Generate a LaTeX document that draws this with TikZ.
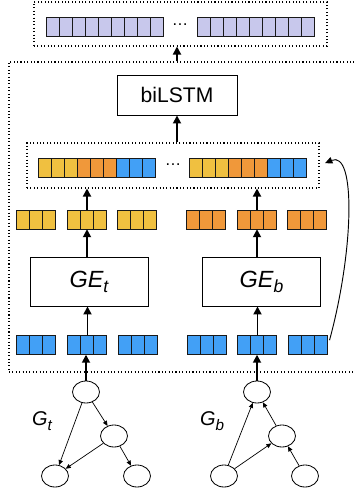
\documentclass[tikz,border=0pt]{standalone}
\usepackage{fontspec}
\setmainfont{Liberation Sans}
\usetikzlibrary{arrows.meta,shapes.geometric,fit,positioning}

\definecolor{vlilac}{RGB}{200,200,236}
\definecolor{vyellow}{RGB}{240,192,64}
\definecolor{vorange}{RGB}{240,152,58}
\definecolor{vblue}{RGB}{66,160,246}

\tikzset{
  cell/.style={draw=black!90, line width=1.2pt},
  vecgrp/.style={inner sep=0pt, minimum height=5.7mm},
  dotbox/.style={draw, dotted, line width=0.9pt, inner sep=0pt},
  netbox/.style={draw, line width=0.8pt, minimum width=36mm, minimum height=12mm, inner sep=0pt},
  gnode/.style={draw, ellipse, line width=0.7pt, minimum width=8.1mm, minimum height=6.6mm, inner sep=0pt},
  arr/.style={line width=1.5pt, -{Triangle[length=2.4mm,width=2.4mm]}},
  garr/.style={line width=0.6pt, -{Triangle[length=1.5mm,width=1.3mm]}},
  backarr/.style={line width=0.8pt, -{Triangle[length=2.2mm,width=2mm]}}
}
\newcommand{\vecrow}[4]{% name, centre, cells, colours
  \node[vecgrp, minimum width=#3*3.9mm] (#1) at (#2) {};
  \foreach \c [count=\i from 0] in {#4} { \draw[cell, fill=\c] ([xshift=\i*3.9mm]#1.south west) rectangle ++(3.9mm,5.7mm); }
}
\newcommand{\lowsub}[2]{\raisebox{-0.22em}{\fontsize{#2}{#2}\selectfont #1}}

\begin{document}
\begin{tikzpicture}[x=0.3mm,y=-0.3mm]
    \useasboundingbox (0,0) rectangle (353,498);
    \node[dotbox, fit={(34,2) (327,46)}] (out) {};
    \vecrow{outl}{105.5,26.5}{9}{vlilac,vlilac,vlilac,vlilac,vlilac,vlilac,vlilac,vlilac,vlilac}
    \vecrow{outr}{256,26.5}{9}{vlilac,vlilac,vlilac,vlilac,vlilac,vlilac,vlilac,vlilac,vlilac}
    \node (odots) at (180,25) {\fontsize{14}{16}\selectfont\dots};
    \node[dotbox, fit={(9,62) (358,372)}] (enc) {};
    \node[netbox] (lstm) at (177,95) {\fontsize{18}{20}\selectfont biLSTM};
    \draw[arr] (enc.north -| lstm) -- (out.south -| lstm);
    \node[dotbox, fit={(27,143) (319,188)}] (cat) {};
    \vecrow{catl}{97,167.5}{9}{vyellow,vyellow,vyellow,vorange,vorange,vorange,vblue,vblue,vblue}
    \vecrow{catr}{248.5,167.5}{9}{vyellow,vyellow,vyellow,vorange,vorange,vorange,vblue,vblue,vblue}
    \node (cdots) at (173,165) {\fontsize{14}{16}\selectfont\dots};
    \draw[arr] (cat.north -| lstm) -- (lstm.south);
    \foreach \n/\x in {y1/36,y2/87,y3/137.5} { \vecrow{\n}{\x,219.5}{3}{vyellow,vyellow,vyellow} }
    \foreach \n/\x in {o1/206,o2/257,o3/307} { \vecrow{\n}{\x,219.5}{3}{vorange,vorange,vorange} }
    \foreach \n/\x in {b1/36.5,b2/87.5,b3/138.5,b4/207.5,b5/257.5,b6/308.5} { \vecrow{\n}{\x,345}{3}{vblue,vblue,vblue} }
    \node[netbox, minimum width=35.4mm, minimum height=14.7mm] (get) at (89,281.5) {\fontsize{20}{22}\selectfont\itshape GE\lowsub{t}{15}};
    \node[netbox, minimum width=35.4mm, minimum height=14.7mm] (geb) at (261.5,281.5) {\fontsize{20}{22}\selectfont\itshape GE\lowsub{b}{15}};
    \draw[arr] (y2.north) -- (cat.south -| y2); \draw[arr] (get.north -| y2) -- (y2.south);
    \draw[arr] (o2.north) -- (cat.south -| o2); \draw[arr] (geb.north -| o2) -- (o2.south);
    \draw[arr] (b2.north) -- (get.south -| b2); \draw[arr] (b5.north) -- (geb.south -| b5);
    \draw[backarr, shorten <=1.5mm, shorten >=1.8mm] (b6.east) .. controls (354,250) and (356,150) .. (cat.east);
    \node[gnode] (t1) at (86,392) {}; \node[gnode] (t2) at (114,436) {};
    \node[gnode] (t3) at (55,476) {}; \node[gnode] (t4) at (137,476) {};
    \node[gnode] (u1) at (257,392) {}; \node[gnode] (u2) at (282,436) {};
    \node[gnode] (u3) at (224,476) {}; \node[gnode] (u4) at (305,476) {};
    \node (gtlab) at (42,421) {\fontsize{17}{19}\selectfont\itshape G\lowsub{t}{13}};
    \node (gblab) at (212,421) {\fontsize{17}{19}\selectfont\itshape G\lowsub{b}{13}};
    \draw[garr] (t1) -- (t3); \draw[garr] (t1) -- (t2); \draw[garr] (t2) -- (t3); \draw[garr] (t2) -- (t4);
    \draw[garr] (u3) -- (u1); \draw[garr] (u3) -- (u2); \draw[garr] (u2) -- (u1); \draw[garr] (u4) -- (u2);
    \draw[arr] (t1.north) -- (b2.south -| t1.north); \draw[arr] (u1.north) -- (b5.south -| u1.north);
\end{tikzpicture}
\end{document}
